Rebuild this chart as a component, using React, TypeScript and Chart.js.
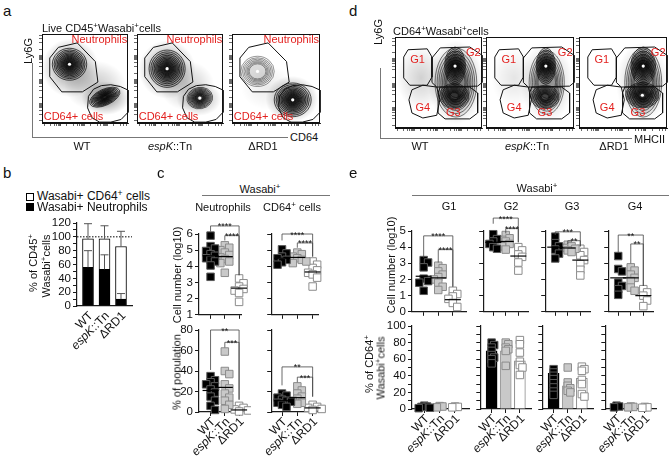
import React, { useEffect, useRef } from 'react';
import { Chart, registerables } from 'chart.js';

Chart.register(...registerables);

const FONT = '"Liberation Sans", Arial, Helvetica, sans-serif';
Chart.defaults.font.family = FONT;
Chart.defaults.color = '#111';

// ---------- categories ----------
const STRAINS = ['WT', 'espK::Tn', 'ΔRD1'];

// ---------- b: % of CD45+ Wasabi+ cells (mean, SD) ----------
const B_NEUTROPHILS = [56, 53, 10];
const B_CD64 = [41, 44, 76];
const B_NEUTROPHILS_SD = [24, 21, 8];
const B_TOTAL_SD = [22, 19, 22];
const B_REFERENCE = 100;

// ---------- c: cell number (log10) ----------
const C_NEU_LOG_WT = [5.9, 5.25, 5.1, 4.95, 4.75, 4.65, 4.5, 4.4, 4.3, 4.05, 3.35];
const C_NEU_LOG_ESPK = [5.3, 5.15, 5.0, 4.85, 4.7, 4.55, 4.45, 4.3, 4.2, 3.6];
const C_NEU_LOG_RD1 = [3.25, 2.95, 2.75, 2.6, 2.5, 2.35, 1.8];
const C_NEU_LOG_MEAN = [4.65, 4.6, 2.65];
const C_CD64_LOG_WT = [5.05, 4.8, 4.6, 4.5, 4.4, 4.25, 4.1];
const C_CD64_LOG_ESPK = [4.85, 4.75, 4.6, 4.5, 4.4, 4.3, 4.2];
const C_CD64_LOG_RD1 = [4.3, 4.1, 3.9, 3.75, 3.6, 3.5, 3.3, 2.75];
const C_CD64_LOG_MEAN = [4.5, 4.55, 3.65];
// ---------- c: % of population ----------
const C_NEU_PCT_WT = [35, 31, 29, 27, 25, 22, 19, 15, 11, 6, 2];
const C_NEU_PCT_ESPK = [59, 40, 37, 27, 23, 18, 14, 11, 7, 3];
const C_NEU_PCT_RD1 = [6, 4, 2.5, 1.5, 0.5];
const C_NEU_PCT_MEAN = [21, 24, 2];
const C_CD64_PCT_WT = [18, 16, 14, 12, 11, 10, 9, 7, 5];
const C_CD64_PCT_ESPK = [25, 21, 18, 15, 13, 11, 9, 8];
const C_CD64_PCT_RD1 = [7, 5, 4, 3, 2];
const C_CD64_PCT_MEAN = [11, 14, 4];

// ---------- e: cell number (log10) per gate ----------
const E_G1_LOG_WT = [3.2, 3.05, 2.75, 2.05, 1.9, 1.8, 1.3];
const E_G1_LOG_ESPK = [2.85, 2.7, 2.5, 2.3, 2.15, 2.0, 1.8, 1.55, 1.35];
const E_G1_LOG_RD1 = [1.3, 1.1, 0.95, 0.8, 0.55, 0.3];
const E_G1_LOG_MEAN = [2.2, 2.1, 0.75];
const E_G2_LOG_WT = [4.8, 4.5, 4.35, 4.2, 4.0, 3.9];
const E_G2_LOG_ESPK = [4.75, 4.55, 4.45, 4.35, 4.2, 4.05, 3.85];
const E_G2_LOG_RD1 = [4.0, 3.8, 3.55, 3.4, 3.05, 2.55];
const E_G2_LOG_MEAN = [4.3, 4.35, 3.45];
const E_G3_LOG_WT = [4.65, 4.25, 4.05, 3.85, 3.6, 3.3];
const E_G3_LOG_ESPK = [4.15, 4.05, 3.95, 3.9, 3.8, 3.7];
const E_G3_LOG_RD1 = [3.9, 3.7, 3.5, 3.2, 2.95, 2.6, 2.25];
const E_G3_LOG_MEAN = [4.0, 3.95, 3.2];
const E_G4_LOG_WT = [3.45, 2.65, 2.5, 1.8, 1.6, 1.4, 1.05];
const E_G4_LOG_ESPK = [2.75, 2.55, 2.3, 2.1, 1.9, 1.5, 1.3];
const E_G4_LOG_RD1 = [1.4, 1.2, 1.0, 0.7, 0.35];
const E_G4_LOG_MEAN = [2.1, 2.1, 1.0];

// ---------- e: % of CD64+ Wasabi+ cells per gate ----------
const E_G1_PCT_WT = [4, 3, 2.5, 1.5, 1];
const E_G1_PCT_ESPK = [3.5, 3, 2];
const E_G1_PCT_RD1 = [3, 2.5, 2];
const E_G1_PCT_MEAN = [3, 2.5, 2.5];
const E_G2_PCT_WT = [80, 77, 74, 70, 65, 62, 60, 55];
const E_G2_PCT_ESPK = [80, 78, 74, 72, 70, 52];
const E_G2_PCT_RD1 = [83, 78, 68, 57, 53, 50, 41];
const E_G2_PCT_MEAN = [70, 70, 58];
const E_G3_PCT_WT = [48, 44, 40, 36, 31, 26, 21, 17];
const E_G3_PCT_ESPK = [50, 32, 28, 25, 22, 20];
const E_G3_PCT_RD1 = [51, 48, 46, 35, 30, 18, 15];
const E_G3_PCT_MEAN = [43, 28, 37];
const E_G4_PCT_WT = [4, 3, 2];
const E_G4_PCT_ESPK = [3, 2.5, 2];
const E_G4_PCT_RD1 = [2.5, 2, 1.5];
const E_G4_PCT_MEAN = [2.5, 2, 2];

// ---------- significance brackets: [from, to, height, left end, right end, label] ----------
type Sig = [number, number, number, number, number, string];
const C_NEU_LOG_SIG: Sig[] = [[0, 2, 6.5, 6.15, 3.45, '****'], [1, 2, 5.9, 5.6, 3.45, '****']];
const C_CD64_LOG_SIG: Sig[] = [[0, 2, 6.0, 5.6, 4.6, '****'], [1, 2, 5.45, 5.15, 4.6, '****']];
const C_NEU_PCT_SIG: Sig[] = [[0, 2, 80, 41, 12, '**'], [1, 2, 68, 63, 12, '***']];
const C_CD64_PCT_SIG: Sig[] = [[0, 2, 44, 26, 15, '**'], [1, 2, 34, 29, 15, '***']];
const E_G1_SIG: Sig[] = [[0, 2, 4.7, 3.35, 1.55, '****'], [1, 2, 3.85, 3.05, 1.55, '****']];
const E_G2_SIG: Sig[] = [[0, 2, 5.8, 5.45, 4.3, '****'], [1, 2, 5.15, 4.85, 4.3, '****']];
const E_G3_SIG: Sig[] = [[0, 2, 4.95, 4.75, 4.05, '***'], [1, 2, 4.4, 4.2, 4.05, '**']];
const E_G4_SIG: Sig[] = [[0, 2, 4.75, 3.65, 1.6, '**'], [1, 2, 4.2, 3.0, 1.6, '**']];

// ---------- flow cytometry plots (axes 0–100, log display) ----------
// gates: polygon vertices
const A_NEU_GATE = [[9, 73], [19, 85], [41, 90], [62, 69], [65, 46], [47, 35], [23, 35], [9, 52], [9, 73]];
const A_CD64_GATE = [[54, 30], [60, 38], [69, 42], [80, 43], [91, 41], [100, 37], [100, 12], [92, 4], [80, 1], [67, 1], [58, 6], [53, 17], [54, 30]];
const D_G1_GATE = [[15, 86], [37, 87], [42.5, 78], [42.5, 56], [37, 47], [17, 47], [10, 55], [10, 78], [15, 86]];
const D_G2_GATE = [[42.5, 77], [52, 88], [86, 89], [100, 80], [100, 50], [95, 46], [48, 45], [42.5, 50], [42.5, 77]];
const D_G3_GATE = [[52, 45], [86, 45], [95, 38.5], [95, 16.5], [86, 10], [57.5, 10], [49.5, 16.5], [49.5, 38.5], [52, 45]];
const D_G4_GATE = [[19.5, 42], [32, 47], [48, 45], [51.5, 31], [48, 14], [32, 11], [19.5, 16.5], [16, 31], [19.5, 42]];
// density clusters: [x, y, rx, ry, tilt°, contour count, darkness, bright core]
const A_WT_CLUSTERS = [[32, 66, 20, 18, 0, 14, 1, 1], [73, 29, 19, 9, -25, 14, 1, 0]];
const A_ESPK_CLUSTERS = [[35, 61, 21, 21, 0, 14, 1, 1], [73, 28, 15, 12, -10, 12, 0.75, 1]];
const A_RD1_CLUSTERS = [[29, 58, 19, 17, 0, 7, 0.25, 1], [69, 26, 21, 19, 0, 14, 1, 1]];
const D_WT_CLUSTERS = [[70, 50, 24, 38, 0, 8, 0.55, 0], [68, 35, 17, 14, 0, 11, 0.85, 0], [69, 68, 12, 21, 0, 14, 1, 1]];
const D_ESPK_CLUSTERS = [[69, 50, 20, 35, 0, 7, 0.5, 0], [67, 34, 16, 13, 0, 11, 0.8, 0], [68, 68, 11, 20, 0, 14, 1, 1]];
const D_RD1_CLUSTERS = [[73, 50, 21, 38, 0, 7, 0.6, 0], [72, 36, 19, 14, 0, 12, 0.95, 1], [73, 68, 14, 21, 0, 14, 1, 1]];
// scattered events: [x, y, rx, ry, density]
const A_WT_HAZE = [[33, 62, 33, 33, 0.4], [62, 42, 36, 28, 0.22], [74, 28, 28, 19, 0.4]];
const A_ESPK_HAZE = [[35, 60, 33, 33, 0.4], [58, 42, 32, 28, 0.2], [72, 27, 26, 19, 0.3]];
const A_RD1_HAZE = [[68, 27, 30, 26, 0.4], [40, 40, 30, 25, 0.08]];
const D_WT_HAZE = [[30, 55, 28, 35, 0.18], [70, 50, 32, 46, 0.3]];
const D_ESPK_HAZE = [[32, 55, 26, 32, 0.1], [69, 50, 30, 44, 0.22]];
const D_RD1_HAZE = [[72, 50, 30, 44, 0.22]];
const FLOW_TICKS = [3, 10, 14, 17, 19, 20, 21, 22, 29, 37, 41, 44, 46, 47, 48, 49, 56, 64, 68, 71, 73, 74, 75, 76, 83, 91, 95, 98];
const CONTOUR_STEPS = [1, 0.9, 0.81, 0.72, 0.64, 0.57, 0.5, 0.44, 0.38, 0.33, 0.28, 0.23, 0.18, 0.13];

// ---------- styling ----------
const GROUP_FILL = ['#000000', '#c9c9c9', '#ffffff'];
const GROUP_EDGE = ['#5a5a5a', '#8c8c8c', '#8c8c8c'];
const BAR_EDGE = ['#000000', '#9a9a9a', '#8c8c8c'];
const AXIS = '#1a1a1a';
const RED = '#e3211f';

type Box = { l: number; t: number; r: number; b: number };
type Pad = { L: number; T: number; R: number; B: number };

function labelParts(s: string) {
  if (s.startsWith('espK')) return [{ t: 'espK', it: true }, { t: s.slice(4), it: false }];
  return [{ t: s, it: false }];
}

// deterministic column spread so overlapping markers stay visible
function swarmOffsets(vals: number[], unitX: number, unitY: number, gap: number) {
  const order = vals.map((_, i) => i).sort((a, b) => vals[b] - vals[a]);
  const placed: { x: number; y: number }[] = [];
  const out = vals.map(() => 0);
  for (const i of order) {
    const y = vals[i] * unitY;
    let chosen = 0;
    for (const c of [0, 1, -1, 2, -2, 3, -3]) {
      const x = c * gap;
      if (placed.every((p) => Math.abs(p.x - x) >= gap || Math.abs(p.y - y) >= gap)) { chosen = x; break; }
    }
    placed.push({ x: chosen, y });
    out[i] = chosen / unitX;
  }
  return out;
}

function baseOptions(pad: Pad, scales: any) {
  return {
    responsive: false,
    animation: false,
    devicePixelRatio: 1,
    events: [],
    layout: { padding: { left: 0, top: pad.T, right: pad.R, bottom: 0 } },
    scales,
    plugins: { legend: { display: false }, tooltip: { enabled: false }, title: { display: false } },
  };
}

function catAxis(min: number, max: number, pad: Pad, tickLen = 4) {
  return {
    type: 'linear', min, max, offset: false, stacked: true,
    afterBuildTicks: (s: any) => { s.ticks = [0, 1, 2].map((v) => ({ value: v })); },
    afterFit: (s: any) => { s.height = pad.B; },
    ticks: { display: false, autoSkip: false },
    grid: { drawOnChartArea: false, drawTicks: tickLen > 0, tickLength: tickLen, color: AXIS, lineWidth: 1, offset: false },
    border: { display: true, color: AXIS, width: 1.2 },
  };
}

function valueAxis(min: number, max: number, step: number, labelEvery: number, show: boolean, pad: Pad, stacked = false) {
  return {
    type: 'linear', min, max, stacked,
    afterBuildTicks: (s: any) => {
      const t: any[] = [];
      for (let v = min; v <= max + 1e-9; v += step) t.push({ value: Math.round(v * 1000) / 1000 });
      s.ticks = t;
    },
    afterFit: (s: any) => { s.width = pad.L; },
    ticks: {
      display: show, autoSkip: false, padding: 2, color: '#111', font: { size: 11.5, family: FONT },
      callback: (v: number) => (Math.abs(v / labelEvery - Math.round(v / labelEvery)) > 1e-6 ? '' : String(v)),
    },
    grid: { drawOnChartArea: false, drawTicks: true, tickLength: 4, color: AXIS, lineWidth: 1 },
    border: { display: true, color: AXIS, width: 1.2 },
  };
}

function makeBrackets(list: Sig[]) {
  return {
    id: 'brackets',
    afterDatasetsDraw(chart: any) {
      const { ctx } = chart;
      const xs = chart.scales.x, ys = chart.scales.y;
      ctx.save();
      ctx.strokeStyle = '#444';
      ctx.lineWidth = 0.8;
      ctx.fillStyle = '#111';
      ctx.font = `9px ${FONT}`;
      ctx.textAlign = 'center';
      ctx.textBaseline = 'alphabetic';
      list.forEach(([a, b, y, ya, yb, t]) => {
        const xa = xs.getPixelForValue(a), xb = xs.getPixelForValue(b), py = ys.getPixelForValue(y);
        ctx.beginPath();
        ctx.moveTo(xa, ys.getPixelForValue(ya));
        ctx.lineTo(xa, py);
        ctx.lineTo(xb, py);
        ctx.lineTo(xb, ys.getPixelForValue(yb));
        ctx.stroke();
        ctx.fillText(t, (xa + xb) / 2, py + 3.5);
      });
      ctx.restore();
    },
  };
}

function makeCatLabels() {
  return {
    id: 'catLabels',
    afterDraw(chart: any) {
      const { ctx, chartArea } = chart;
      const xs = chart.scales.x;
      STRAINS.forEach((lab, i) => {
        const parts = labelParts(lab);
        ctx.save();
        ctx.translate(xs.getPixelForValue(i) + 3, chartArea.bottom + 8);
        ctx.rotate(-Math.PI / 4);
        ctx.fillStyle = '#111';
        ctx.textBaseline = 'middle';
        ctx.textAlign = 'left';
        let w = 0;
        parts.forEach((p) => { ctx.font = `${p.it ? 'italic ' : ''}12px ${FONT}`; w += ctx.measureText(p.t).width; });
        let x = -w;
        parts.forEach((p) => {
          ctx.font = `${p.it ? 'italic ' : ''}12px ${FONT}`;
          ctx.fillText(p.t, x, 0);
          x += ctx.measureText(p.t).width;
        });
        ctx.restore();
      });
    },
  };
}

function dotConfig(p: {
  groups: number[][]; means: number[]; box: Box; pad: Pad; xmin: number; xmax: number;
  ymin: number; ymax: number; step: number; labelEvery: number; showY: boolean; sig: Sig[]; xLabels: boolean;
}) {
  const unitX = (p.box.r - p.box.l) / (p.xmax - p.xmin);
  const unitY = (p.box.b - p.box.t) / (p.ymax - p.ymin);
  const datasets: any[] = [
    { data: p.means.map((m, i) => ({ x: i, y: m })), pointStyle: 'line', pointRadius: 8, borderColor: '#000', borderWidth: 1.2, order: 0, clip: false },
  ];
  p.groups.forEach((g, gi) => {
    const offs = swarmOffsets(g, unitX, unitY, 5);
    datasets.push({
      data: g.map((v, k) => ({ x: gi + offs[k], y: v })), pointStyle: 'rect', pointRadius: 5.3,
      backgroundColor: GROUP_FILL[gi], borderColor: GROUP_EDGE[gi], borderWidth: 1, order: 1, clip: false,
    });
  });
  const plugins: any[] = [makeBrackets(p.sig)];
  if (p.xLabels) plugins.push(makeCatLabels());
  return {
    type: 'scatter',
    data: { datasets },
    options: baseOptions(p.pad, {
      x: catAxis(p.xmin, p.xmax, p.pad),
      y: valueAxis(p.ymin, p.ymax, p.step, p.labelEvery, p.showY, p.pad),
    }),
    plugins,
  };
}

function barDotConfig(p: { groups: number[][]; bars: number[]; box: Box; pad: Pad; xmin: number; xmax: number; showY: boolean }) {
  const unitX = (p.box.r - p.box.l) / (p.xmax - p.xmin);
  const unitY = (p.box.b - p.box.t) / 100;
  const datasets: any[] = [];
  p.groups.forEach((g, gi) => {
    const offs = swarmOffsets(g, unitX, unitY, 3);
    datasets.push({
      type: 'scatter', data: g.map((v, k) => ({ x: gi + offs[k], y: v })), pointStyle: 'rect', pointRadius: 5.3,
      backgroundColor: GROUP_FILL[gi], borderColor: GROUP_EDGE[gi], borderWidth: 1, order: 1, clip: false,
    });
  });
  datasets.push({
    type: 'bar', data: p.bars.map((v, i) => ({ x: i, y: v })), backgroundColor: GROUP_FILL, borderColor: BAR_EDGE,
    borderWidth: 1, barThickness: 11, order: 2,
  });
  return {
    type: 'bar',
    data: { datasets },
    options: baseOptions(p.pad, {
      x: catAxis(p.xmin, p.xmax, p.pad),
      y: valueAxis(0, 100, 10, 20, p.showY, p.pad),
    }),
    plugins: [makeCatLabels()],
  };
}

function stackedConfig(pad: Pad) {
  const xmin = -0.667, xmax = 2.667;
  const errPlugin = {
    id: 'errBars',
    afterDatasetsDraw(chart: any) {
      const { ctx, chartArea } = chart;
      const xs = chart.scales.x, ys = chart.scales.y;
      ctx.save();
      // reference line at 100 %
      ctx.strokeStyle = '#000';
      ctx.lineWidth = 1;
      ctx.setLineDash([1.5, 1.5]);
      ctx.beginPath();
      ctx.moveTo(chartArea.left, ys.getPixelForValue(B_REFERENCE));
      ctx.lineTo(chartArea.right, ys.getPixelForValue(B_REFERENCE));
      ctx.stroke();
      ctx.setLineDash([]);
      ctx.strokeStyle = '#555';
      ctx.lineWidth = 1;
      const bar = (x: number, y0: number, y1: number) => {
        const px = xs.getPixelForValue(x);
        ctx.beginPath();
        ctx.moveTo(px, ys.getPixelForValue(y0));
        ctx.lineTo(px, ys.getPixelForValue(y1));
        ctx.moveTo(px - 4, ys.getPixelForValue(y1));
        ctx.lineTo(px + 4, ys.getPixelForValue(y1));
        ctx.stroke();
      };
      B_NEUTROPHILS.forEach((n, i) => {
        const total = n + B_CD64[i];
        bar(i, n, n + B_NEUTROPHILS_SD[i]);
        bar(i, total, total + B_TOTAL_SD[i]);
      });
      ctx.restore();
    },
  };
  return {
    type: 'bar',
    data: {
      datasets: [
        { label: 'Wasabi+ Neutrophils', data: B_NEUTROPHILS.map((v, i) => ({ x: i, y: v })), backgroundColor: '#000', borderColor: '#000', borderWidth: 1, barThickness: 11, stack: 's' },
        { label: 'Wasabi+ CD64+ cells', data: B_CD64.map((v, i) => ({ x: i, y: v })), backgroundColor: '#fff', borderColor: '#000', borderWidth: 1, barThickness: 11, stack: 's' },
      ],
    },
    options: baseOptions(pad, {
      x: catAxis(xmin, xmax, pad, 0),
      y: valueAxis(0, 120, 10, 20, true, pad, true),
    }),
    plugins: [errPlugin, makeCatLabels()],
  };
}

type FlowSpec = { gates: number[][][]; clusters: number[][]; haze: number[][]; labels: { t: string; x: number; y: number; align: string }[] };

function makeFlowArt(spec: FlowSpec) {
  return {
    id: 'flowArt',
    beforeDatasetsDraw(chart: any) {
      const { ctx, chartArea: a } = chart;
      const xs = chart.scales.x, ys = chart.scales.y;
      ctx.save();
      ctx.beginPath();
      ctx.rect(a.left, a.top, a.right - a.left, a.bottom - a.top);
      ctx.clip();
      spec.haze.forEach(([cx, cy, rx, ry, al]) => {
        const px = xs.getPixelForValue(cx), py = ys.getPixelForValue(cy);
        const sx = Math.abs(xs.getPixelForValue(cx + rx) - px), sy = Math.abs(ys.getPixelForValue(cy + ry) - py);
        ctx.save();
        ctx.translate(px, py);
        ctx.scale(sx, sy);
        const g = ctx.createRadialGradient(0, 0, 0, 0, 0, 1);
        g.addColorStop(0, `rgba(0,0,0,${al})`);
        g.addColorStop(0.55, `rgba(0,0,0,${al * 0.5})`);
        g.addColorStop(1, 'rgba(0,0,0,0)');
        ctx.fillStyle = g;
        ctx.beginPath();
        ctx.arc(0, 0, 1, 0, Math.PI * 2);
        ctx.fill();
        ctx.restore();
      });
      spec.clusters.forEach(([cx, cy, rx, ry, rot, n, shade, core]) => {
        const px = xs.getPixelForValue(cx), py = ys.getPixelForValue(cy);
        const sx = Math.abs(xs.getPixelForValue(cx + rx) - px), sy = Math.abs(ys.getPixelForValue(cy + ry) - py);
        for (let k = 0; k < n; k++) {
          const s = CONTOUR_STEPS[k];
          ctx.beginPath();
          ctx.ellipse(px, py, sx * s, sy * s, (rot * Math.PI) / 180, 0, Math.PI * 2);
          ctx.fillStyle = `rgba(0,0,0,${0.1 * shade})`;
          ctx.fill();
          ctx.strokeStyle = `rgba(10,10,10,${0.4 + 0.5 * shade})`;
          ctx.lineWidth = 0.8;
          ctx.stroke();
        }
        if (core) {
          ctx.beginPath();
          ctx.arc(px, py, 1.6, 0, Math.PI * 2);
          ctx.fillStyle = '#fff';
          ctx.fill();
        }
      });
      ctx.restore();
    },
    afterDraw(chart: any) {
      const { ctx, chartArea: a } = chart;
      const xs = chart.scales.x, ys = chart.scales.y;
      ctx.save();
      ctx.strokeStyle = '#111';
      ctx.lineWidth = 1;
      ctx.strokeRect(Math.round(a.left) + 0.5, Math.round(a.top) + 0.5, Math.round(a.right - a.left) - 1, Math.round(a.bottom - a.top) - 1);
      ctx.fillStyle = RED;
      ctx.font = `11px ${FONT}`;
      ctx.textBaseline = 'middle';
      spec.labels.forEach((l) => {
        ctx.textAlign = l.align;
        ctx.fillText(l.t, xs.getPixelForValue(l.x), ys.getPixelForValue(l.y));
      });
      ctx.restore();
    },
  };
}

function flowAxis(dir: 'x' | 'y', pad: Pad) {
  return {
    type: 'linear', min: 0, max: 100,
    afterBuildTicks: (s: any) => { s.ticks = FLOW_TICKS.map((v) => ({ value: v })); },
    afterFit: (s: any) => { if (dir === 'x') s.height = pad.B; else s.width = pad.L; },
    ticks: { display: false },
    grid: { drawOnChartArea: false, drawTicks: true, tickLength: 3, color: '#444', lineWidth: 0.8 },
    border: { display: true, color: '#111', width: 1 },
  };
}

function flowConfig(spec: FlowSpec, pad: Pad) {
  const datasets = spec.gates.map((g) => ({
    data: g.map(([x, y]) => ({ x, y })), showLine: true, pointRadius: 0, borderColor: '#111',
    borderWidth: 1, fill: false, tension: 0, clip: false,
  }));
  return {
    type: 'scatter',
    data: { datasets },
    options: baseOptions(pad, { x: flowAxis('x', pad), y: flowAxis('y', pad) }),
    plugins: [makeFlowArt(spec)],
  };
}

function ChartBox({ box, pad, make }: { box: Box; pad: Pad; make: () => any }) {
  const ref = useRef<HTMLCanvasElement>(null);
  useEffect(() => {
    const chart = new Chart(ref.current as HTMLCanvasElement, make());
    return () => chart.destroy();
  }, []);
  const w = box.r - box.l + pad.L + pad.R;
  const h = box.b - box.t + pad.T + pad.B;
  return (
    <canvas ref={ref} width={w} height={h}
      style={{ position: 'absolute', left: box.l - pad.L, top: box.t - pad.T, width: w, height: h }} />
  );
}

function Txt(p: { x: number; y: number; size?: number; anchor?: string; rot?: number; color?: string; children: any }) {
  const tx = p.anchor === 'start' ? '0%' : p.anchor === 'end' ? '-100%' : '-50%';
  return (
    <div style={{
      position: 'absolute', left: p.x, top: p.y, transform: `translate(${tx}, -50%) rotate(${p.rot ?? 0}deg)`,
      fontSize: p.size ?? 11, lineHeight: 1, whiteSpace: 'nowrap', color: p.color ?? '#111', fontFamily: FONT,
    }}>{p.children}</div>
  );
}

const Sup = ({ c }: { c: string }) => (
  <span style={{ fontSize: '0.72em', position: 'relative', top: '-0.45em' }}>{c}</span>
);

function HLine({ x1, x2, y, color = '#777' }: { x1: number; x2: number; y: number; color?: string }) {
  return <div style={{ position: 'absolute', left: x1, top: y, width: x2 - x1, height: 1, background: color }} />;
}
function VLine({ x, y1, y2, color = '#777' }: { x: number; y1: number; y2: number; color?: string }) {
  return <div style={{ position: 'absolute', left: x, top: y1, width: 1, height: y2 - y1, background: color }} />;
}

const Strain = ({ s }: { s: string }) => (
  <>{labelParts(s).map((p, i) => (p.it ? <i key={i}>{p.t}</i> : <span key={i}>{p.t}</span>))}</>
);

// ---------- layout ----------
const FLOW_PAD: Pad = { L: 4, T: 2, R: 2, B: 4 };
const A_BOXES: Box[] = [
  { l: 42, t: 34, r: 128, b: 123 },
  { l: 137, t: 34, r: 223, b: 123 },
  { l: 232, t: 34, r: 320, b: 123 },
];
const D_BOXES: Box[] = [
  { l: 395, t: 37, r: 482, b: 128 },
  { l: 486, t: 37, r: 574, b: 128 },
  { l: 579, t: 37, r: 667, b: 128 },
];
const A_LABELS = [
  { t: 'Neutrophils', x: 99, y: 93, align: 'right' },
  { t: 'CD64+ cells', x: 2, y: 7, align: 'left' },
];
const D_LABELS = [
  { t: 'G1', x: 26, y: 75, align: 'center' },
  { t: 'G2', x: 90, y: 82, align: 'center' },
  { t: 'G4', x: 32, y: 22, align: 'center' },
  { t: 'G3', x: 67, y: 17, align: 'center' },
];
const A_SPECS: FlowSpec[] = [
  { gates: [A_NEU_GATE, A_CD64_GATE], clusters: A_WT_CLUSTERS, haze: A_WT_HAZE, labels: A_LABELS },
  { gates: [A_NEU_GATE, A_CD64_GATE], clusters: A_ESPK_CLUSTERS, haze: A_ESPK_HAZE, labels: A_LABELS },
  { gates: [A_NEU_GATE, A_CD64_GATE], clusters: A_RD1_CLUSTERS, haze: A_RD1_HAZE, labels: A_LABELS },
];
const D_GATES = [D_G1_GATE, D_G2_GATE, D_G3_GATE, D_G4_GATE];
const D_SPECS: FlowSpec[] = [
  { gates: D_GATES, clusters: D_WT_CLUSTERS, haze: D_WT_HAZE, labels: D_LABELS },
  { gates: D_GATES, clusters: D_ESPK_CLUSTERS, haze: D_ESPK_HAZE, labels: D_LABELS },
  { gates: D_GATES, clusters: D_RD1_CLUSTERS, haze: D_RD1_HAZE, labels: D_LABELS },
];

const B_BOX: Box = { l: 77, t: 223, r: 132, b: 306 };
const B_PAD: Pad = { L: 27, T: 10, R: 4, B: 46 };

const C_TL: Box = { l: 199, t: 234, r: 247, b: 316 };
const C_TR: Box = { l: 266, t: 234, r: 318, b: 316 };
const C_BL: Box = { l: 199, t: 330, r: 247, b: 412 };
const C_BR: Box = { l: 266, t: 330, r: 318, b: 412 };
const C_X_LEFT = [-0.81, 2.19];
const C_X_RIGHT = [-0.706, 2.35];

const E_LEFTS = [412, 476, 538, 601];
const E_RIGHTS = [474, 536, 598, 661];
const E_UNIT = 16.5;
const E_XMIN = -0.8;
const E_LOG_GROUPS = [
  [E_G1_LOG_WT, E_G1_LOG_ESPK, E_G1_LOG_RD1],
  [E_G2_LOG_WT, E_G2_LOG_ESPK, E_G2_LOG_RD1],
  [E_G3_LOG_WT, E_G3_LOG_ESPK, E_G3_LOG_RD1],
  [E_G4_LOG_WT, E_G4_LOG_ESPK, E_G4_LOG_RD1],
];
const E_LOG_MEANS = [E_G1_LOG_MEAN, E_G2_LOG_MEAN, E_G3_LOG_MEAN, E_G4_LOG_MEAN];
const E_SIGS = [E_G1_SIG, E_G2_SIG, E_G3_SIG, E_G4_SIG];
const E_PCT_GROUPS = [
  [E_G1_PCT_WT, E_G1_PCT_ESPK, E_G1_PCT_RD1],
  [E_G2_PCT_WT, E_G2_PCT_ESPK, E_G2_PCT_RD1],
  [E_G3_PCT_WT, E_G3_PCT_ESPK, E_G3_PCT_RD1],
  [E_G4_PCT_WT, E_G4_PCT_ESPK, E_G4_PCT_RD1],
];
const E_PCT_MEANS = [E_G1_PCT_MEAN, E_G2_PCT_MEAN, E_G3_PCT_MEAN, E_G4_PCT_MEAN];
const GATE_NAMES = ['G1', 'G2', 'G3', 'G4'];
const GATE_NAME_X = [449, 511, 572, 635];

export default function App() {
  const cTopPadL: Pad = { L: 14, T: 22, R: 4, B: 8 };
  const cTopPadR: Pad = { L: 4, T: 22, R: 12, B: 8 };
  const cBotPadL: Pad = { L: 22, T: 10, R: 4, B: 44 };
  const cBotPadR: Pad = { L: 4, T: 10, R: 12, B: 44 };
  return (
    <div style={{ position: 'absolute', left: 0, top: 0, width: 669, height: 456, background: '#fff', overflow: 'hidden', fontFamily: FONT, color: '#111' }}>
      {/* a: Ly6G vs CD64 */}
      {A_SPECS.map((s, i) => <ChartBox key={'a' + i} box={A_BOXES[i]} pad={FLOW_PAD} make={() => flowConfig(s, FLOW_PAD)} />)}
      {/* d: Ly6G vs MHCII */}
      {D_SPECS.map((s, i) => <ChartBox key={'d' + i} box={D_BOXES[i]} pad={FLOW_PAD} make={() => flowConfig(s, FLOW_PAD)} />)}

      {/* b */}
      <ChartBox box={B_BOX} pad={B_PAD} make={() => stackedConfig(B_PAD)} />

      {/* c */}
      <ChartBox box={C_TL} pad={cTopPadL} make={() => dotConfig({
        groups: [C_NEU_LOG_WT, C_NEU_LOG_ESPK, C_NEU_LOG_RD1], means: C_NEU_LOG_MEAN, box: C_TL, pad: cTopPadL,
        xmin: C_X_LEFT[0], xmax: C_X_LEFT[1], ymin: 1, ymax: 6, step: 1, labelEvery: 1, showY: true, sig: C_NEU_LOG_SIG, xLabels: false,
      })} />
      <ChartBox box={C_TR} pad={cTopPadR} make={() => dotConfig({
        groups: [C_CD64_LOG_WT, C_CD64_LOG_ESPK, C_CD64_LOG_RD1], means: C_CD64_LOG_MEAN, box: C_TR, pad: cTopPadR,
        xmin: C_X_RIGHT[0], xmax: C_X_RIGHT[1], ymin: 1, ymax: 6, step: 1, labelEvery: 1, showY: false, sig: C_CD64_LOG_SIG, xLabels: false,
      })} />
      <ChartBox box={C_BL} pad={cBotPadL} make={() => dotConfig({
        groups: [C_NEU_PCT_WT, C_NEU_PCT_ESPK, C_NEU_PCT_RD1], means: C_NEU_PCT_MEAN, box: C_BL, pad: cBotPadL,
        xmin: C_X_LEFT[0], xmax: C_X_LEFT[1], ymin: 0, ymax: 80, step: 20, labelEvery: 20, showY: true, sig: C_NEU_PCT_SIG, xLabels: true,
      })} />
      <ChartBox box={C_BR} pad={cBotPadR} make={() => dotConfig({
        groups: [C_CD64_PCT_WT, C_CD64_PCT_ESPK, C_CD64_PCT_RD1], means: C_CD64_PCT_MEAN, box: C_BR, pad: cBotPadR,
        xmin: C_X_RIGHT[0], xmax: C_X_RIGHT[1], ymin: 0, ymax: 80, step: 20, labelEvery: 20, showY: false, sig: C_CD64_PCT_SIG, xLabels: true,
      })} />

      {/* e */}
      {E_LEFTS.map((l, gi) => {
        const box: Box = { l, t: 231, r: E_RIGHTS[gi], b: 313 };
        const pad: Pad = { L: gi === 0 ? 14 : 2, T: 26, R: 2, B: 8 };
        return <ChartBox key={'et' + gi} box={box} pad={pad} make={() => dotConfig({
          groups: E_LOG_GROUPS[gi], means: E_LOG_MEANS[gi], box, pad,
          xmin: E_XMIN, xmax: E_XMIN + (box.r - box.l) / E_UNIT, ymin: 0, ymax: 5, step: 1, labelEvery: 1,
          showY: gi === 0, sig: E_SIGS[gi], xLabels: false,
        })} />;
      })}
      {E_LEFTS.map((l, gi) => {
        const box: Box = { l, t: 326, r: E_RIGHTS[gi], b: 409 };
        const pad: Pad = { L: gi === 0 ? 26 : 2, T: 10, R: 2, B: 47 };
        return <ChartBox key={'eb' + gi} box={box} pad={pad} make={() => barDotConfig({
          groups: E_PCT_GROUPS[gi], bars: E_PCT_MEANS[gi], box, pad,
          xmin: E_XMIN, xmax: E_XMIN + (box.r - box.l) / E_UNIT, showY: gi === 0,
        })} />;
      })}

      {/* ---- text: panel a ---- */}
      <Txt x={3} y={10} size={15} anchor="start">a</Txt>
      <Txt x={42} y={28} anchor="start">Live CD45<Sup c="+" />Wasabi<Sup c="+" />cells</Txt>
      <Txt x={28} y={51} rot={-90}>Ly6G</Txt>
      <VLine x={32} y1={63} y2={137} />
      <HLine x1={32} x2={288} y={137} />
      <Txt x={290} y={137} anchor="start">CD64</Txt>
      <Txt x={82} y={146}>WT</Txt>
      <Txt x={170} y={146}><Strain s={STRAINS[1]} /></Txt>
      <Txt x={263} y={146}>{STRAINS[2]}</Txt>

      {/* ---- text: panel d ---- */}
      <Txt x={349} y={10} size={15} anchor="start">d</Txt>
      <Txt x={393} y={31} anchor="start">CD64<Sup c="+" />Wasabi<Sup c="+" />cells</Txt>
      <Txt x={378} y={32} rot={-90}>Ly6G</Txt>
      <VLine x={380} y1={68} y2={138} />
      <HLine x1={380} x2={632} y={138} />
      <Txt x={634} y={139} anchor="start">MHCII</Txt>
      <Txt x={420} y={146}>WT</Txt>
      <Txt x={527} y={146}><Strain s={STRAINS[1]} /></Txt>
      <Txt x={614} y={146}>{STRAINS[2]}</Txt>

      {/* ---- text: panel b ---- */}
      <Txt x={3} y={172} size={15} anchor="start">b</Txt>
      <div style={{ position: 'absolute', left: 26, top: 193, width: 6, height: 6, border: '1px solid #000', background: '#fff' }} />
      <Txt x={37} y={196} size={12} anchor="start">Wasabi+ CD64<Sup c="+" /> cells</Txt>
      <div style={{ position: 'absolute', left: 26, top: 203, width: 8, height: 8, background: '#000' }} />
      <Txt x={37} y={207} size={12} anchor="start">Wasabi+ Neutrophils</Txt>
      <Txt x={33} y={263} rot={-90}>% of CD45<Sup c="+" /></Txt>
      <Txt x={46} y={266} rot={-90}>Wasabi<Sup c="+" />cells</Txt>

      {/* ---- text: panel c ---- */}
      <Txt x={157} y={172} size={15} anchor="start">c</Txt>
      <Txt x={260} y={189}>Wasabi<Sup c="+" /></Txt>
      <HLine x1={202} x2={330} y={195} />
      <Txt x={223} y={207}>Neutrophils</Txt>
      <Txt x={292} y={207}>CD64<Sup c="+" /> cells</Txt>
      <Txt x={177} y={275} rot={-90}>Cell number (log10)</Txt>
      <Txt x={177} y={372} rot={-90}>% of population</Txt>

      {/* ---- text: panel e ---- */}
      <Txt x={349} y={172} size={15} anchor="start">e</Txt>
      <Txt x={537} y={188}>Wasabi<Sup c="+" /></Txt>
      <HLine x1={412} x2={669} y={195} />
      {GATE_NAMES.map((g, i) => <Txt key={g} x={GATE_NAME_X[i]} y={206}>{g}</Txt>)}
      <Txt x={391} y={265} rot={-90}>Cell number (log10)</Txt>
      <Txt x={369} y={364} rot={-90}>% of CD64<Sup c="+" /></Txt>
      <Txt x={381} y={368} rot={-90}>Wasabi<Sup c="+" />cells</Txt>
    </div>
  );
}
